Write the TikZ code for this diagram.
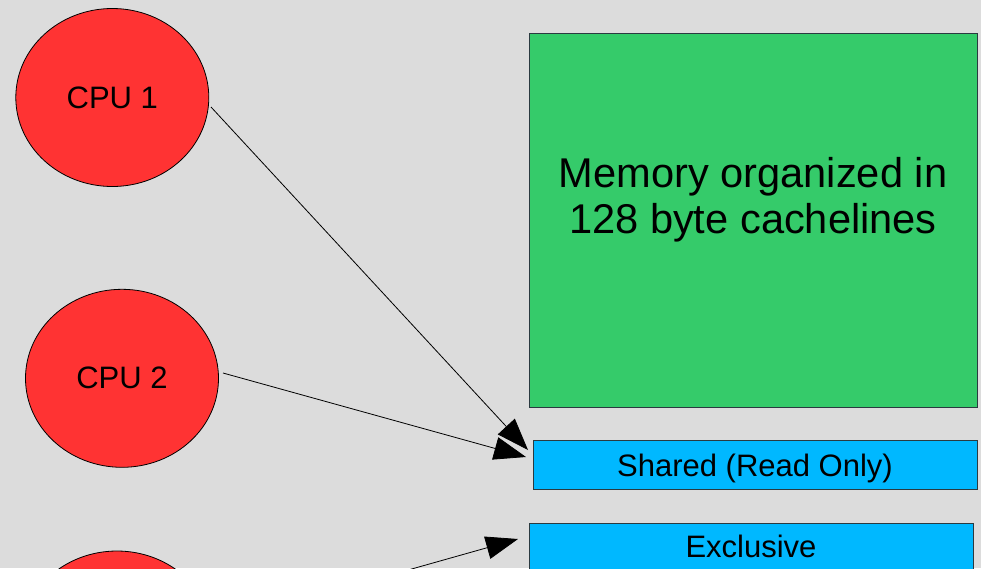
\documentclass[tikz,border=0pt]{standalone}
\usepackage{fontspec}
\setmainfont{Liberation Sans}
\usetikzlibrary{arrows.meta,shapes.geometric}
\definecolor{bgc}{HTML}{DCDCDC}
\definecolor{cpured}{HTML}{FF3333}
\definecolor{memgreen}{HTML}{35CB6A}
\definecolor{stateblue}{HTML}{00B8FF}
\definecolor{boxedge}{HTML}{2A3A40}
\begin{document}
\begin{tikzpicture}[x=1pt,y=-1pt,
  cpu/.style={ellipse,draw=black,line width=0.8pt,fill=cpured,minimum width=193pt,minimum height=178pt,inner sep=0pt,font=\fontsize{31}{37}\selectfont},
  statebox/.style={rectangle,draw=boxedge,line width=0.9pt,fill=stateblue,minimum width=444pt,minimum height=49pt,inner sep=0pt,text depth=0pt,font=\fontsize{31}{37}\selectfont},
  membox/.style={rectangle,draw=boxedge,line width=0.9pt,fill=memgreen,minimum width=448pt,minimum height=374pt,inner sep=0pt,align=center,font=\fontsize{41.6}{46}\selectfont},
  conn/.style={draw=black,line width=0.8pt,-{Triangle[length=32pt,width=23pt]}}]
\fill[bgc] (0,0) rectangle (981,568);
\useasboundingbox (0,0) rectangle (981,568);
\node[membox] (mem) at (753,220) {Memory organized in\\128 byte cachelines\\[3pt]\phantom{x}};
\node[statebox,text height=23.2pt] (shared) at (755,464.5) {Shared (Read Only)};
\node[statebox,text height=19.5pt] (excl) at (751,547.5) {Exclusive};
\node[cpu] (cpu1) at (112.3,97.5) {CPU 1};
\node[cpu] (cpu2) at (122,378.3) {CPU 2};
\node[cpu] (cpu3) at (117,640) {};
\coordinate (s1) at (211,107);
\coordinate (t1) at (528,450);
\coordinate (s2) at (223,373);
\coordinate (t2) at (526,457);
\coordinate (s3) at (213,625);
\coordinate (t3) at (518,539);
\draw[conn] (s1) -- (t1);
\draw[conn] (s2) -- (t2);
\draw[conn] (s3) -- (t3);
\end{tikzpicture}
\end{document}
